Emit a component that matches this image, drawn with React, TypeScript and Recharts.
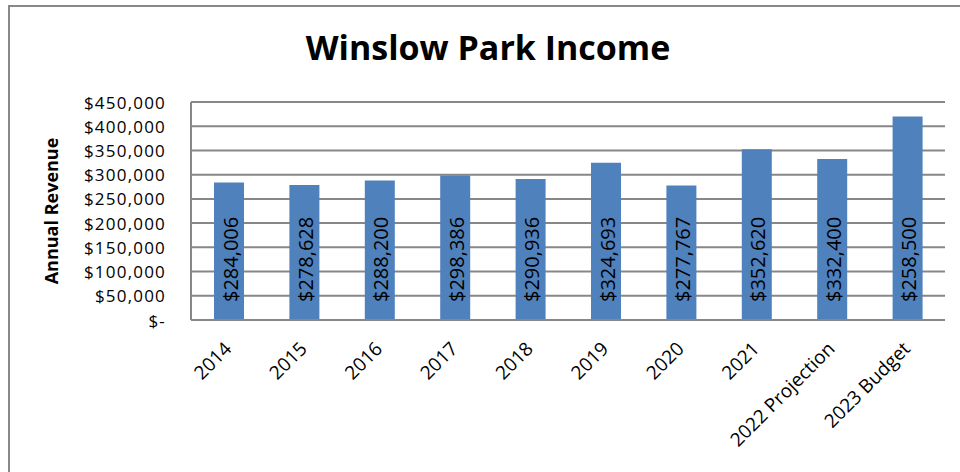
import React from "react";
import { BarChart, Bar, XAxis, YAxis, CartesianGrid, LabelList, Label } from "recharts";

const categories = ["2014", "2015", "2016", "2017", "2018", "2019", "2020", "2021", "2022 Projection", "2023 Budget"];
// bar heights as drawn in the picture
const revenue = [284006, 278628, 288200, 298386, 290936, 324693, 277767, 352620, 332400, 420000];
// text printed inside each bar
const barLabels = ["$284,006", "$278,628", "$288,200", "$298,386", "$290,936", "$324,693", "$277,767", "$352,620", "$332,400", "$258,500"];
const yTicks = [0, 50000, 100000, 150000, 200000, 250000, 300000, 350000, 400000, 450000];

const data = categories.map((name, i) => ({ name, value: revenue[i], label: barLabels[i] }));

const FONT = "'Open Sans', sans-serif";
const GRID = "#878787";

const fmtMoney = (v: number) => (v === 0 ? "$-" : "$" + v.toLocaleString("en-US"));

const YTick = ({ x, y, payload }: any) => (
  <text
    x={x}
    y={y}
    textAnchor="end"
    dominantBaseline="central"
    fontSize={17}
    letterSpacing={1.2}
    fontFamily={FONT}
    fill="#000"
  >
    {fmtMoney(payload.value)}
  </text>
);

const XTick = ({ x, y, payload }: any) => (
  <text
    transform={`translate(${x + 4}, ${y + 30}) rotate(-45)`}
    textAnchor="end"
    fontSize={19}
    fontFamily={FONT}
    fill="#000"
  >
    {payload.value}
  </text>
);

const BarText = ({ x, y, width, height, value }: any) => (
  <text
    transform={`translate(${x + width / 2 + 1}, ${y + height - 18}) rotate(-90)`}
    textAnchor="start"
    dominantBaseline="central"
    fontSize={20}
    fontFamily={FONT}
    fill="#000"
  >
    {value}
  </text>
);

export default function App() {
  return (
    <div style={{ position: "absolute", left: 0, top: 0, width: 960, height: 472, background: "#fff", overflow: "hidden" }}>
      {/* chart frame, cut off at right and bottom */}
      <div style={{ position: "absolute", left: 8, top: 5, width: 1000, height: 600, border: "2px solid #888", boxSizing: "border-box" }} />
      <div
        style={{
          position: "absolute",
          left: 0,
          top: 25,
          width: 976,
          textAlign: "center",
          fontFamily: FONT,
          fontWeight: 700,
          fontSize: 34,
          lineHeight: "44px",
          color: "#000",
        }}
      >
        Winslow Park Income
      </div>
      <div style={{ position: "absolute", left: 0, top: 0 }}>
        <BarChart width={960} height={472} data={data} margin={{ top: 102, right: 15, bottom: 0, left: 81 }}>
          <CartesianGrid vertical={false} stroke={GRID} strokeWidth={2} />
          <XAxis
            dataKey="name"
            height={152}
            interval={0}
            tickLine={false}
            tickSize={0}
            tickMargin={0}
            axisLine={{ stroke: GRID, strokeWidth: 2 }}
            tick={<XTick />}
          />
          <YAxis
            width={110}
            domain={[0, 450000]}
            ticks={yTicks}
            interval={0}
            tickLine={false}
            tickSize={0}
            tickMargin={25}
            axisLine={{ stroke: GRID, strokeWidth: 2 }}
            tick={<YTick />}
          >
            <Label
              value="Annual Revenue"
              angle={-90}
              position="insideLeft"
              offset={0}
              style={{ fontFamily: FONT, fontWeight: 700, fontSize: 18, fill: "#000", textAnchor: "middle" }}
              dx={-29}
            />
          </YAxis>
          <Bar dataKey="value" fill="#4F81BD" barSize={30} isAnimationActive={false}>
            <LabelList dataKey="label" content={<BarText />} />
          </Bar>
        </BarChart>
      </div>
    </div>
  );
}
